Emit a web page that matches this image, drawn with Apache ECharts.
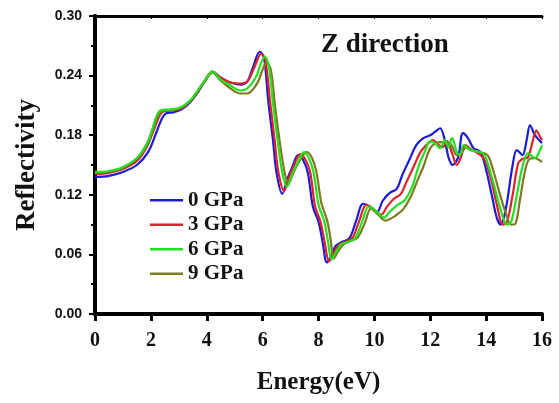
<!DOCTYPE html>
<html>
<head>
<meta charset="utf-8">
<title>Reflectivity - Z direction</title>
<script src="https://cdn.jsdelivr.net/npm/echarts@6/dist/echarts.min.js"></script>
<style>
  html, body { margin: 0; padding: 0; background: #fff; }
  #main { width: 559px; height: 403px; }
</style>
</head>
<body>
<div id="main"></div>
<script type="text/javascript">
// pressures shown in the legend
var seriesNames = ['0 GPa', '3 GPa', '6 GPa', '9 GPa'];
var xTicks = [0, 2, 4, 6, 8, 10, 12, 14, 16];
var yTicks = [0.00, 0.06, 0.12, 0.18, 0.24, 0.30];

// [energy (eV), reflectivity]
var gpa0 = [[0,0.138],[0.5,0.139],[1.0,0.143],[1.5,0.150],[1.9,0.163],[2.2,0.183],[2.4,0.197],[2.55,0.202],[2.8,0.203],[3.1,0.206],[3.4,0.213],[3.7,0.224],[3.95,0.235],[4.2,0.244],[4.5,0.238],[4.85,0.233],[5.2,0.231],[5.45,0.234],[5.65,0.248],[5.9,0.264],[6.05,0.258],[6.2,0.215],[6.37,0.175],[6.5,0.142],[6.7,0.121],[6.9,0.137],[7.05,0.147],[7.27,0.160],[7.45,0.155],[7.62,0.142],[7.8,0.108],[8.0,0.093],[8.15,0.072],[8.3,0.052],[8.45,0.058],[8.6,0.068],[8.8,0.072],[9.1,0.076],[9.35,0.094],[9.6,0.111],[9.85,0.108],[10.1,0.103],[10.3,0.114],[10.55,0.122],[10.8,0.126],[11.0,0.140],[11.25,0.155],[11.5,0.170],[11.75,0.177],[12.0,0.180],[12.15,0.183],[12.35,0.187],[12.53,0.174],[12.65,0.158],[12.8,0.150],[13.0,0.158],[13.17,0.182],[13.35,0.177],[13.55,0.167],[13.8,0.163],[14.0,0.145],[14.2,0.120],[14.38,0.097],[14.52,0.090],[14.7,0.105],[14.95,0.150],[15.1,0.165],[15.3,0.160],[15.45,0.175],[15.57,0.190],[15.75,0.180],[16,0.172]];
var gpa3 = [[0,0.141],[0.5,0.142],[1.0,0.146],[1.5,0.154],[1.85,0.168],[2.1,0.185],[2.3,0.199],[2.45,0.204],[2.8,0.205],[3.1,0.207],[3.4,0.214],[3.7,0.225],[3.95,0.236],[4.2,0.244],[4.5,0.238],[4.85,0.233],[5.2,0.232],[5.45,0.234],[5.7,0.248],[5.95,0.262],[6.1,0.255],[6.27,0.213],[6.43,0.175],[6.57,0.142],[6.77,0.124],[6.95,0.138],[7.1,0.148],[7.35,0.161],[7.52,0.156],[7.7,0.143],[7.88,0.108],[8.07,0.093],[8.22,0.072],[8.38,0.053],[8.52,0.060],[8.7,0.069],[8.9,0.072],[9.2,0.076],[9.45,0.093],[9.72,0.110],[9.95,0.106],[10.25,0.100],[10.45,0.108],[10.7,0.116],[10.95,0.121],[11.15,0.133],[11.4,0.148],[11.65,0.163],[11.9,0.171],[12.1,0.175],[12.3,0.170],[12.45,0.168],[12.6,0.174],[12.78,0.162],[12.95,0.150],[13.1,0.158],[13.25,0.170],[13.45,0.166],[13.7,0.162],[13.95,0.155],[14.2,0.133],[14.4,0.108],[14.6,0.090],[14.75,0.093],[14.95,0.120],[15.15,0.152],[15.3,0.156],[15.5,0.158],[15.65,0.172],[15.8,0.185],[15.9,0.180],[16,0.175]];
var gpa6 = [[0,0.143],[0.5,0.144],[1.0,0.148],[1.5,0.157],[1.86,0.172],[2.05,0.186],[2.2,0.199],[2.35,0.205],[2.7,0.206],[3.05,0.208],[3.4,0.215],[3.7,0.226],[3.95,0.236],[4.2,0.244],[4.5,0.236],[4.85,0.230],[5.2,0.225],[5.45,0.227],[5.75,0.238],[6.08,0.259],[6.22,0.250],[6.38,0.210],[6.55,0.172],[6.7,0.143],[6.87,0.128],[7.05,0.140],[7.25,0.152],[7.48,0.163],[7.65,0.157],[7.82,0.143],[8.0,0.110],[8.2,0.094],[8.33,0.075],[8.47,0.055],[8.62,0.062],[8.8,0.070],[9.0,0.072],[9.3,0.076],[9.55,0.092],[9.8,0.108],[10.05,0.104],[10.35,0.097],[10.55,0.103],[10.85,0.110],[11.1,0.115],[11.35,0.128],[11.6,0.150],[11.8,0.163],[12.0,0.174],[12.2,0.171],[12.35,0.167],[12.52,0.175],[12.65,0.168],[12.78,0.177],[12.95,0.163],[13.05,0.160],[13.2,0.170],[13.42,0.165],[13.78,0.163],[13.96,0.159],[14.25,0.133],[14.5,0.107],[14.75,0.090],[14.9,0.093],[15.1,0.120],[15.3,0.148],[15.5,0.162],[15.75,0.157],[15.9,0.163],[16,0.170]];
var gpa9 = [[0,0.142],[0.5,0.143],[1.0,0.147],[1.5,0.156],[1.88,0.171],[2.1,0.187],[2.25,0.199],[2.4,0.204],[2.75,0.205],[3.05,0.207],[3.4,0.214],[3.7,0.225],[3.95,0.235],[4.2,0.243],[4.5,0.235],[4.85,0.227],[5.2,0.222],[5.45,0.222],[5.8,0.232],[6.15,0.253],[6.3,0.245],[6.45,0.208],[6.62,0.172],[6.77,0.145],[6.92,0.131],[7.1,0.142],[7.3,0.153],[7.58,0.163],[7.75,0.158],[7.92,0.144],[8.1,0.112],[8.3,0.095],[8.42,0.078],[8.55,0.056],[8.7,0.063],[8.9,0.070],[9.1,0.073],[9.4,0.077],[9.65,0.091],[9.88,0.106],[10.1,0.101],[10.4,0.094],[10.65,0.097],[10.85,0.101],[11.05,0.106],[11.3,0.118],[11.55,0.135],[11.75,0.148],[12.0,0.167],[12.2,0.172],[12.4,0.173],[12.7,0.172],[12.95,0.160],[13.1,0.162],[13.3,0.168],[13.5,0.165],[13.75,0.163],[14.05,0.160],[14.25,0.145],[14.45,0.125],[14.7,0.102],[14.9,0.090],[15.05,0.091],[15.2,0.113],[15.4,0.145],[15.55,0.156],[15.75,0.157],[15.9,0.155],[16,0.153]];

var colors = ['#1a1ad8', '#e0202a', '#22e022', '#7f7a1e'];
var serif = '"Liberation Serif", "DejaVu Serif", serif';

var chart = echarts.init(document.getElementById('main'));

function line(name, data, color, z) {
    return {
        name: name,
        type: 'line',
        data: data,
        smooth: 0.35,
        symbol: 'none',
        z: z,
        lineStyle: { width: 2.2, color: color },
        itemStyle: { color: color }
    };
}

chart.setOption({
    animation: false,
    title: {
        text: 'Z direction',
        left: 316,
        top: 27,
        textStyle: { fontFamily: serif, fontWeight: 'bold', fontSize: 27, color: '#111' }
    },
    legend: {
        data: seriesNames,
        orient: 'vertical',
        left: 145,
        top: 183,
        icon: 'rect',
        itemWidth: 33,
        itemHeight: 2.5,
        itemGap: 0,
        textStyle: { fontFamily: serif, fontWeight: 'bold', fontSize: 21, color: '#111', lineHeight: 24.5 }
    },
    grid: { left: 95, right: 17, top: 16, bottom: 89, containLabel: false },
    xAxis: [{
        type: 'value',
        min: 0, max: 16, interval: 2,
        name: 'Energy(eV)',
        nameLocation: 'middle',
        nameGap: 56,
        nameTextStyle: { fontFamily: serif, fontWeight: 'bold', fontSize: 25, color: '#111' },
        axisLine: { lineStyle: { color: '#000', width: 4 } },
        axisTick: { show: true, length: 7, lineStyle: { width: 3, color: '#000' } },
        axisLabel: {
            margin: 17,
            fontFamily: serif, fontWeight: 'bold', fontSize: 20, color: '#111',
            formatter: function (v) { return xTicks.indexOf(v) >= 0 ? String(v) : ''; }
        },
        splitLine: { show: false }
    }, {
        type: 'value',
        position: 'top',
        min: 0, max: 16, interval: 2,
        axisLine: { show: true, onZero: false, lineStyle: { color: '#000', width: 3 } },
        axisTick: { show: true, inside: true, length: 3, lineStyle: { width: 1, color: '#000' } },
        axisLabel: { show: false },
        splitLine: { show: false }
    }],
    yAxis: [{
        type: 'value',
        min: 0, max: 0.30, interval: 0.06,
        name: 'Reflectivity',
        nameLocation: 'middle',
        nameRotate: 90,
        nameGap: 54,
        nameTextStyle: { fontFamily: serif, fontWeight: 'bold', fontSize: 27, color: '#111' },
        axisLine: { show: true, lineStyle: { color: '#000', width: 4 } },
        axisTick: { show: true, length: 6, lineStyle: { width: 2, color: '#000' } },
        minorTick: { show: true, splitNumber: 2, length: 4, lineStyle: { width: 2, color: '#000' } },
        axisLabel: {
            margin: 13,
            fontFamily: '"Liberation Sans", Arial, sans-serif', fontWeight: 'bold', fontSize: 14, color: '#111',
            formatter: function (v) {
                var t = yTicks.find(function (y) { return Math.abs(y - v) < 1e-6; });
                return t === undefined ? '' : t.toFixed(2);
            }
        },
        splitLine: { show: false }
    }, {
        type: 'value',
        position: 'right',
        min: 0, max: 0.30, interval: 0.06,
        axisLine: { show: true, lineStyle: { color: '#000', width: 4 } },
        axisTick: { show: false },
        axisLabel: { show: false },
        splitLine: { show: false }
    }],
    series: [
        line(seriesNames[0], gpa0, colors[0], 2),
        line(seriesNames[1], gpa3, colors[1], 3),
        line(seriesNames[2], gpa6, colors[2], 5),
        line(seriesNames[3], gpa9, colors[3], 4)
    ]
});
</script>
</body>
</html>
